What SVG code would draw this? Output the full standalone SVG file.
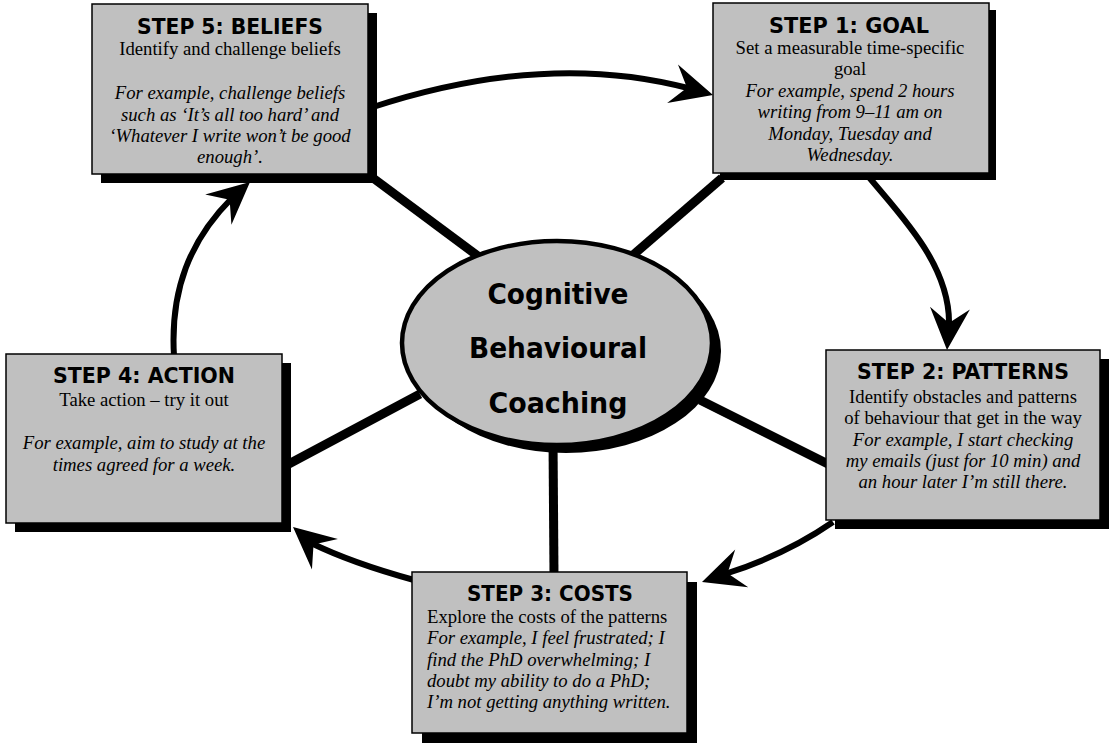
<svg xmlns="http://www.w3.org/2000/svg" xmlns:xlink="http://www.w3.org/1999/xlink" width="1112" height="748" viewBox="0 0 1112 748">
<defs>
<style>
.box{fill:#c0c0c0;stroke:#000;stroke-width:1.5}
.shadow{fill:#000}
.spoke{stroke:#000;stroke-width:9;fill:none}
.arc{stroke:#000;stroke-width:6;fill:none}
.head{fill:#000}
.h{font-family:"DejaVu Sans","Liberation Sans",sans-serif;font-weight:bold;font-size:22px;text-anchor:middle;fill:#000}
.c{font-family:"DejaVu Sans","Liberation Sans",sans-serif;font-weight:bold;font-size:28px;text-anchor:middle;fill:#000}
.b{font-family:"Liberation Serif","Times New Roman",serif;font-size:18.7px;text-anchor:middle;fill:#000}
.i{font-style:italic}
.l{text-anchor:start}
</style>
<path id="ah" class="head" d="M0,0 L-42,-20 L-27,0 L-42,20 Z"/>
</defs>
<rect width="1112" height="748" fill="#fff"/>
<g id="connectors">
<line class="spoke" x1="373" y1="178" x2="490" y2="265"/>
<line class="spoke" x1="722" y1="178" x2="625" y2="262"/>
<line class="spoke" x1="700" y1="400" x2="830" y2="465"/>
<line class="spoke" x1="553" y1="440" x2="554" y2="575"/>
<line class="spoke" x1="285" y1="466" x2="420" y2="394"/>
<path class="arc" d="M370,108 Q545,50 690,88.5"/>
<use xlink:href="#ah" transform="translate(713,95) rotate(15.7)"/>
<path class="arc" d="M868,176 C900,215 951,265 949,326"/>
<use xlink:href="#ah" transform="translate(947,350) rotate(94)"/>
<path class="arc" d="M833,522 Q785,555 725,574"/>
<use xlink:href="#ah" transform="translate(702,582) rotate(161)"/>
<path class="arc" d="M414,580 Q352,563 311,543"/>
<use xlink:href="#ah" transform="translate(293,527) rotate(220.5)"/>
<path class="arc" d="M174,356 C170,290 190,240 232,198"/>
<use xlink:href="#ah" transform="translate(250,182) rotate(-41)"/>
</g>
<g id="center">
<ellipse cx="566" cy="351" rx="155" ry="102" fill="#000"/>
<ellipse cx="557" cy="343" rx="155" ry="102" fill="#c0c0c0" stroke="#000" stroke-width="4.5"/>
<text class="c" x="558" y="304" textLength="141" lengthAdjust="spacingAndGlyphs">Cognitive</text>
<text class="c" x="558" y="358" textLength="178" lengthAdjust="spacingAndGlyphs">Behavioural</text>
<text class="c" x="558" y="413" textLength="139" lengthAdjust="spacingAndGlyphs">Coaching</text>
</g>
<g id="step5">
<rect class="shadow" x="101" y="13" width="276" height="170"/>
<rect class="box" x="92" y="4" width="276" height="170"/>
<text class="h" x="230" y="34" textLength="186" lengthAdjust="spacingAndGlyphs">STEP 5: BELIEFS</text>
<text class="b" x="230" y="55">Identify and challenge beliefs</text>
<text class="b i" x="230" y="99">For example, challenge beliefs</text>
<text class="b i" x="230" y="121">such as ‘It’s all too hard’ and</text>
<text class="b i" x="230" y="142">‘Whatever I write won’t be good</text>
<text class="b i" x="230" y="163">enough’.</text>
</g>
<g id="step1">
<rect class="shadow" x="720" y="10" width="276" height="170"/>
<rect class="box" x="713" y="3" width="276" height="170"/>
<text class="h" x="849" y="33" textLength="160" lengthAdjust="spacingAndGlyphs">STEP 1: GOAL</text>
<text class="b" x="850" y="54">Set a measurable time-specific</text>
<text class="b" x="850" y="75">goal</text>
<text class="b i" x="850" y="97">For example, spend 2 hours</text>
<text class="b i" x="850" y="118">writing from 9–11 am on</text>
<text class="b i" x="850" y="140">Monday, Tuesday and</text>
<text class="b i" x="850" y="161">Wednesday.</text>
</g>
<g id="step2">
<rect class="shadow" x="835" y="359" width="274" height="170"/>
<rect class="box" x="826" y="350" width="274" height="170"/>
<text class="h" x="963" y="379" textLength="212" lengthAdjust="spacingAndGlyphs">STEP 2: PATTERNS</text>
<text class="b" x="963" y="403">Identify obstacles and patterns</text>
<text class="b" x="963" y="424">of behaviour that get in the way</text>
<text class="b i" x="963" y="446">For example, I start checking</text>
<text class="b i" x="963" y="467">my emails (just for 10 min) and</text>
<text class="b i" x="963" y="488">an hour later I’m still there.</text>
</g>
<g id="step3">
<rect class="shadow" x="422" y="582" width="275" height="161"/>
<rect class="box" x="412" y="572" width="275" height="161"/>
<text class="h" x="550" y="601" textLength="166" lengthAdjust="spacingAndGlyphs">STEP 3: COSTS</text>
<text class="b l" x="427" y="623">Explore the costs of the patterns</text>
<text class="b i l" x="427" y="644">For example, I feel frustrated; I</text>
<text class="b i l" x="427" y="666">find the PhD overwhelming; I</text>
<text class="b i l" x="427" y="687">doubt my ability to do a PhD;</text>
<text class="b i l" x="427" y="708">I’m not getting anything written.</text>
</g>
<g id="step4">
<rect class="shadow" x="15" y="363" width="276" height="169"/>
<rect class="box" x="6" y="354" width="276" height="169"/>
<text class="h" x="144" y="383" textLength="182" lengthAdjust="spacingAndGlyphs">STEP 4: ACTION</text>
<text class="b" x="144" y="406">Take action – try it out</text>
<text class="b i" x="144" y="449">For example, aim to study at the</text>
<text class="b i" x="144" y="471">times agreed for a week.</text>
</g>
</svg>
